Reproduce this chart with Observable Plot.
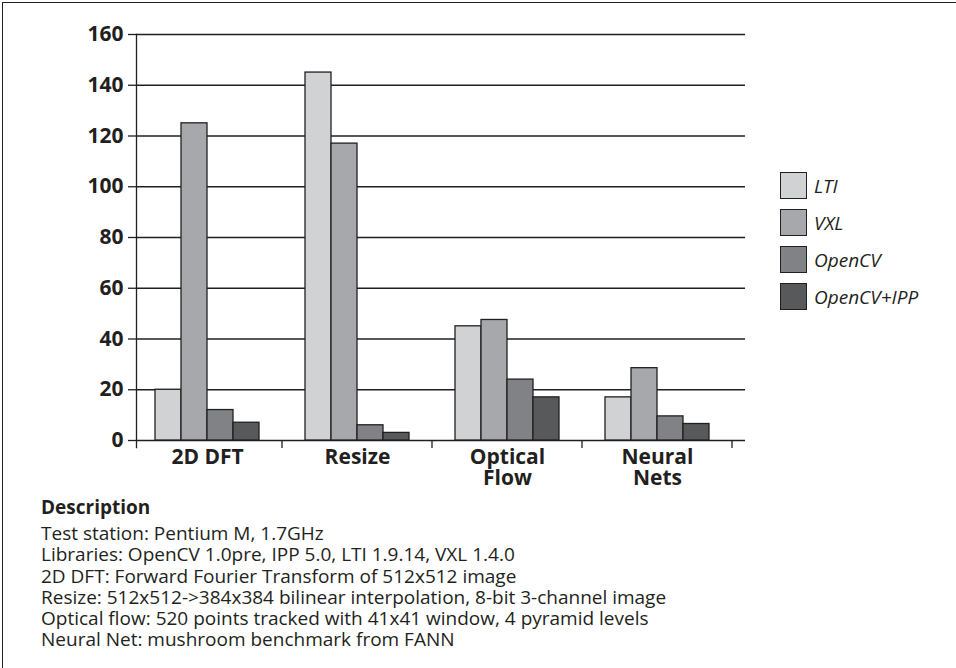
<!DOCTYPE html>
<html>
<head>
<meta charset="utf-8">
<script src="https://cdn.jsdelivr.net/npm/d3@7"></script>
<script src="https://cdn.jsdelivr.net/npm/@observablehq/plot@0.6"></script>
<style>
  html, body { margin: 0; padding: 0; background: #fff; }
  body { width: 956px; height: 668px; position: relative; overflow: hidden; font-family: "Open Sans", "Noto Sans", sans-serif; color: #231f20; }
  #border { position: absolute; left: 2px; top: 2px; width: 1000px; height: 800px; border-top: 1.6px solid #231f20; border-left: 1.6px solid #231f20; }
  .layer { position: absolute; left: 0; top: 0; }
  .layer svg { display: block; }
  #legend { position: absolute; left: 780px; top: 172px; }
  .item { display: flex; align-items: center; height: 27px; margin-bottom: 10px; }
  .sw { width: 25px; height: 25px; border: 1.4px solid #231f20; margin-right: 7px; }
  .lab { font-style: italic; font-size: 19px; }
  #desc { position: absolute; left: 41px; top: 497px; font-size: 19px; line-height: 21.2px; }
  #desc .h { font-weight: 700; font-size: 19px; margin-bottom: 5px; }
</style>
</head>
<body>
<div id="border"></div>
<div id="back" class="layer"></div>
<div id="front" class="layer"></div>
<div id="legend"></div>
<div id="desc"></div>
<script>
const categories = ["2D DFT", "Resize", "Optical\nFlow", "Neural\nNets"];
const series = ["LTI", "VXL", "OpenCV", "OpenCV+IPP"];
const ltiValues = [20, 145, 45, 17];
const vxlValues = [125, 117, 47.5, 28.5];
const opencvValues = [12, 6, 24, 9.5];
const opencvIppValues = [7, 3, 17, 6.5];
const seriesColors = ["#d1d2d4", "#a7a8ab", "#808285", "#58595b"];
const yTicks = [0, 20, 40, 60, 80, 100, 120, 140, 160];
const descriptionTitle = "Description";
const descriptionLines = [
  "Test station: Pentium M, 1.7GHz",
  "Libraries: OpenCV 1.0pre, IPP 5.0, LTI 1.9.14, VXL 1.4.0",
  "2D DFT: Forward Fourier Transform of 512x512 image",
  "Resize: 512x512->384x384 bilinear interpolation, 8-bit 3-channel image",
  "Optical flow: 520 points tracked with 41x41 window, 4 pyramid levels",
  "Neural Net: mushroom benchmark from FANN"
];

const valuesBySeries = [ltiValues, vxlValues, opencvValues, opencvIppValues];
const data = [];
categories.forEach((c, i) => series.forEach((s, j) => data.push({category: c, series: s, value: valuesBySeries[j][i]})));

const ink = "#231f20";
const common = {
  width: 956,
  height: 492,
  marginLeft: 136,
  marginRight: 211,
  marginTop: 34,
  marginBottom: 52,
  style: {fontFamily: "'Open Sans', 'Noto Sans', sans-serif", fontSize: "21px", fontWeight: 700, color: ink, background: "transparent"}
};

// background layer: grid, y axis, axis line
const back = Plot.plot({
  ...common,
  y: {domain: [0, 160], axis: null},
  marks: [
    Plot.gridY(yTicks, {stroke: ink, strokeOpacity: 1, strokeWidth: 1.3}),
    Plot.axisY(yTicks, {tickSize: 8, tickPadding: 5, label: null, fontSize: 21, fontWeight: 700, fill: ink, stroke: ink, strokeWidth: 1.3}),
    Plot.frame({anchor: "left", stroke: ink, strokeWidth: 1.3, insetBottom: -7})
  ]
});
document.getElementById("back").appendChild(back);

// front layer: grouped bars
const front = Plot.plot({
  ...common,
  fx: {domain: categories, range: [131.5, 731.5], paddingInner: 0.296, paddingOuter: 0.148, label: null},
  x: {domain: series, padding: 0, axis: null},
  y: {domain: [0, 160], axis: null},
  color: {domain: series, range: seriesColors},
  marks: [
    Plot.barY(data, {fx: "category", x: "series", y: "value", fill: "series", stroke: ink, strokeWidth: 1.3}),
    Plot.axisFx({anchor: "bottom", tickSize: 0, tickPadding: 8, fontSize: 21, fontWeight: 700, fill: ink, lineHeight: 1.03, label: null})
  ]
});

// boundary ticks between category groups, placed from the fx and y scales
const fx = front.scale("fx");
const ys = front.scale("y");
const y0 = ys.apply(0);
const g = d3.select(front).append("g").attr("stroke", ink).attr("stroke-width", 1.3);
categories.forEach(c => {
  const bx = fx.apply(c) + fx.bandwidth + (fx.step - fx.bandwidth) / 2;
  g.append("line").attr("x1", bx).attr("x2", bx).attr("y1", y0).attr("y2", y0 + 8);
});
document.getElementById("front").appendChild(front);

// legend
const legend = document.getElementById("legend");
series.forEach((s, i) => {
  const item = document.createElement("div");
  item.className = "item";
  const sw = document.createElement("div");
  sw.className = "sw";
  sw.style.background = seriesColors[i];
  const lab = document.createElement("span");
  lab.className = "lab";
  lab.textContent = s;
  item.appendChild(sw); item.appendChild(lab);
  legend.appendChild(item);
});

// description
const desc = document.getElementById("desc");
const h = document.createElement("div");
h.className = "h"; h.textContent = descriptionTitle;
desc.appendChild(h);
descriptionLines.forEach(t => { const d = document.createElement("div"); d.textContent = t; desc.appendChild(d); });
</script>
</body>
</html>
